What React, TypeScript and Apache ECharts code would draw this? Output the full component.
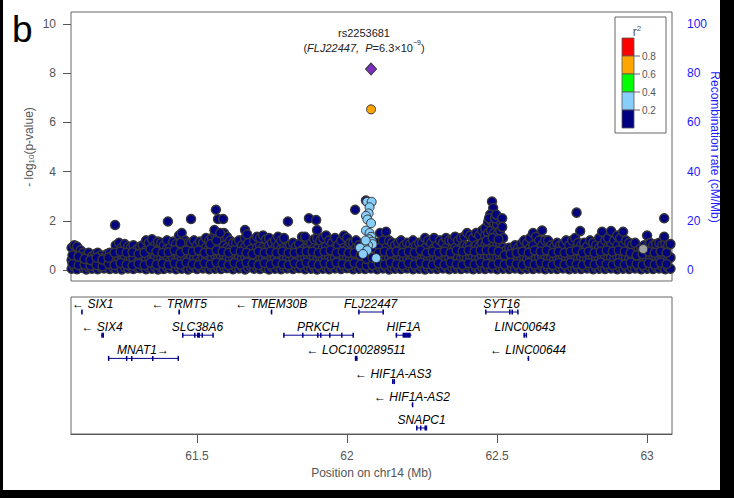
import React, { useEffect, useRef } from 'react';
import * as echarts from 'echarts';

const FONT = '"Liberation Sans", Arial, sans-serif';
const X_MIN = 61.08;
const X_MAX = 63.083;
const xTicks = [61.5, 62, 62.5, 63];
const pTicks = [0, 2, 4, 6, 8, 10];
const recombTicks = [0, 20, 40, 60, 80, 100];

// navy SNPs (r2 < 0.2): each row = [position (Mb), -log10 p values ...]
const navyBins: number[][] = [
  [61.082, .05, .4, .9], [61.091, .12, .55, 1.0], [61.1, .03, .35, .95], [61.112, .15, .5, .8], [61.12, .08, .3, .7],
  [61.131, .02, .3, .6], [61.139, .1, .45, .7], [61.15, .05, .25, .55], [61.161, .12, .4, .65], [61.169, .03, .35, .7],
  [61.18, .1, .3, .6], [61.19, .06, .25, .5], [61.2, .14, .4, .65], [61.209, .04, .35, .7], [61.219, .1, .3, .6],
  [61.229, .05, .45, 1.0], [61.24, .12, .5, 1.1], [61.249, .02, .4, .9], [61.259, .1, .55, 1.05], [61.27, .06, .35, .95],
  [61.279, .13, .45, .9], [61.288, .04, .5, 1.0], [61.3, .1, .3, .85], [61.31, .07, .4, .95], [61.319, .15, .5, 1.0],
  [61.33, .03, .45, .8, 1.2], [61.339, .1, .55, 1.1], [61.35, .05, .4, .75, 1.25], [61.36, .12, .5, 1.0], [61.37, .02, .45, .8, 1.15],
  [61.38, .09, .5, 1.1], [61.389, .04, .4, 1.0], [61.4, .11, .55, .85, 1.2], [61.41, .06, .35, .9], [61.42, .13, .5, 1.15],
  [61.43, .03, .4, .75, 1.05], [61.44, .1, .55, .9, 1.4], [61.449, .05, .45, .8, 1.5], [61.46, .12, .5, 1.2], [61.47, .02, .4, 1.1],
  [61.48, .08, .5, 1.1], [61.49, .14, .45, .8, 1.2], [61.5, .04, .55, 1.0], [61.51, .1, .35, .75, 1.15], [61.52, .06, .5, 1.1],
  [61.53, .12, .45, .9, 1.3], [61.54, .03, .55, .85, 1.2], [61.55, .1, .5, .9, 1.3], [61.56, .05, .6, 1.0, 1.45], [61.57, .12, .45, .9, 1.4],
  [61.58, .04, .55, .95, 1.3], [61.59, .1, .6, 1.0, 1.5], [61.6, .07, .5, .9, 1.35], [61.61, .13, .45, .85, 1.2], [61.62, .03, .55, 1.1],
  [61.63, .1, .4, .8, 1.1], [61.64, .06, .5, 1.2], [61.65, .12, .45, 1.0], [61.66, .02, .55, .95, 1.3], [61.67, .09, .5, 1.1],
  [61.68, .14, .4, .85], [61.69, .05, .5, 1.2], [61.7, .1, .45, .9, 1.35], [61.71, .04, .55, 1.0, 1.3], [61.72, .12, .5, .9, 1.4],
  [61.73, .07, .45, .85, 1.25], [61.74, .02, .55, 1.0, 1.3], [61.75, .11, .4, .8, 1.1], [61.76, .05, .5, .9, 1.2], [61.77, .13, .45, 1.0, 1.35],
  [61.78, .03, .55, .85, 1.2], [61.79, .1, .5, .9, 1.3], [61.8, .06, .45, .9], [61.81, .12, .4, 1.0], [61.82, .04, .5, 1.1],
  [61.83, .1, .35, .95], [61.84, .07, .5, 1.05], [61.85, .14, .45, .8, 1.35], [61.86, .03, .5, .9, 1.3], [61.87, .1, .55, .95, 1.2],
  [61.88, .05, .45, 1.1], [61.89, .12, .5, .9, 1.25], [61.9, .02, .4, .85, 1.3], [61.91, .09, .55, 1.2], [61.92, .05, .45, .9, 1.3],
  [61.93, .12, .5, .95, 1.4], [61.94, .03, .55, 1.2], [61.95, .1, .45, 1.1], [61.96, .06, .5, .9, 1.3], [61.97, .13, .4, 1.0],
  [61.98, .04, .5, 1.2], [61.99, .1, .55, .9, 1.4], [62.0, .07, .45, .85, 1.3], [62.01, .12, .5, 1.1], [62.02, .03, .45, 1.1],
  [62.03, .1, .5, .9, 1.2], [62.04, .05, .4, 1.0], [62.05, .12, .35, .9], [62.06, .04, .3, .7], [62.07, .1, .25],
  [62.08, .06, .3], [62.09, .13, .45, .9], [62.1, .03, .5, 1.1], [62.11, .1, .45, .9, 1.5], [62.12, .06, .5, 1.2],
  [62.13, .12, .45, .9, 1.55], [62.14, .02, .5, 1.2], [62.15, .09, .45, 1.1], [62.16, .05, .5, 1.0], [62.17, .12, .4, 1.1],
  [62.18, .04, .5, .85, 1.2], [62.19, .1, .45, 1.0], [62.2, .06, .5, 1.1], [62.21, .13, .4, 1.05], [62.22, .03, .5, .9, 1.2],
  [62.23, .1, .45, 1.0], [62.24, .05, .55, 1.1], [62.25, .12, .45, 1.1], [62.26, .02, .5, .9, 1.3], [62.27, .09, .45, 1.2],
  [62.28, .05, .5, 1.1], [62.29, .12, .4, .9, 1.3], [62.3, .04, .5, 1.0], [62.31, .1, .45, 1.2], [62.32, .06, .55, 1.1],
  [62.33, .13, .45, .9, 1.3], [62.34, .03, .5, 1.2], [62.35, .1, .45, .85, 1.2], [62.36, .05, .55, .9, 1.35], [62.37, .12, .5, 1.2],
  [62.38, .04, .45, .9, 1.3], [62.39, .1, .55, 1.0, 1.35], [62.4, .06, .5, .95, 1.5], [62.41, .13, .45, 1.0, 1.4], [62.42, .03, .55, .9, 1.3],
  [62.43, .1, .5, 1.0, 1.5], [62.44, .05, .45, .95, 1.4], [62.45, .12, .6, 1.1, 1.6], [62.46, .04, .5, 1.0, 1.4, 1.7], [62.47, .1, .55, 1.0, 1.5, 1.95],
  [62.48, .06, .6, 1.1, 1.6, 2.0], [62.49, .13, .55, 1.05, 1.5, 1.9], [62.5, .03, .5, 1.0, 1.45, 1.85], [62.51, .1, .55, 1.1, 1.6, 2.0], [62.52, .05, .5, .9, 1.3],
  [62.53, .12, .45, .8], [62.54, .04, .5, .9], [62.55, .1, .4, .85], [62.56, .06, .5, 1.0], [62.57, .13, .45, .9],
  [62.58, .03, .5, 1.05], [62.59, .1, .55, 1.2], [62.6, .05, .45, 1.1], [62.61, .12, .5, .9, 1.3], [62.62, .04, .55, 1.0, 1.5],
  [62.63, .1, .45, 1.35], [62.64, .06, .5, 1.2], [62.65, .13, .55, 1.0, 1.6], [62.66, .03, .5, 1.2], [62.67, .1, .45, 1.2],
  [62.68, .05, .5, 1.0], [62.69, .12, .4, .95], [62.7, .04, .5, 1.1], [62.71, .1, .45, 1.0], [62.72, .06, .55, 1.05],
  [62.73, .13, .5, 1.2], [62.74, .03, .45, 1.0], [62.75, .1, .5, 1.2], [62.76, .05, .55, 1.3], [62.77, .12, .45, 1.1],
  [62.78, .04, .5, 1.0], [62.79, .1, .45, 1.1], [62.8, .06, .5, .95], [62.81, .13, .45, 1.2], [62.82, .03, .55, 1.1],
  [62.83, .1, .5, 1.0], [62.84, .05, .45, .9, 1.3], [62.85, .12, .5, 1.0, 1.55], [62.86, .04, .55, 1.2], [62.87, .1, .45, .95, 1.3],
  [62.88, .06, .5, 1.0, 1.58], [62.89, .13, .45, 1.2], [62.9, .03, .55, 1.0, 1.4], [62.91, .1, .5, 1.3], [62.92, .05, .45, 1.0, 1.55],
  [62.93, .12, .5, 1.2], [62.94, .04, .45, 1.1], [62.95, .1, .5, 1.0], [62.96, .06, .45, 1.1], [62.97, .13, .4, .8],
  [62.98, .03, .45, .9], [62.99, .1, .5, 1.0], [63.0, .05, .45, .95, 1.4], [63.01, .12, .5, 1.1], [63.02, .04, .45, 1.0],
  [63.03, .1, .55, 1.05], [63.04, .06, .5, 1.1], [63.05, .13, .45, 1.0], [63.06, .03, .5, 1.1], [63.07, .1, .45, 1.0],
  [63.078, .05, .5, 1.05],
];

// further navy SNPs inside the dense band, between the rows above
const navyFill: number[][] = [
  [61.085, .25, .6], [61.105, .2, .55], [61.125, .22, .45], [61.145, .18, .4], [61.165, .2, .5], [61.185, .15, .42],
  [61.205, .25, .5], [61.225, .2, .7], [61.245, .28, .75], [61.265, .22, .7], [61.285, .18, .72], [61.305, .25, .65],
  [61.325, .2, .7], [61.345, .3, .85], [61.365, .22, .75], [61.385, .26, .7], [61.405, .2, .72], [61.425, .28, .8],
  [61.445, .22, .7, 1.1], [61.465, .3, .8], [61.485, .24, .75], [61.505, .2, .8], [61.525, .28, .7], [61.545, .22, .75, 1.05],
  [61.565, .3, .8, 1.2], [61.585, .25, .75], [61.605, .2, .7], [61.625, .28, .8], [61.645, .22, .75], [61.665, .3, .7],
  [61.685, .25, .65], [61.705, .2, .75], [61.725, .28, .7], [61.745, .22, .75], [61.765, .3, .7], [61.785, .24, .75],
  [61.805, .2, .7], [61.825, .28, .7], [61.845, .22, .75], [61.865, .3, .75], [61.885, .24, .75], [61.905, .2, .7],
  [61.925, .28, .75], [61.945, .22, .8], [61.965, .3, .7], [61.985, .24, .75], [62.005, .2, .7], [62.025, .28, .7],
  [62.045, .22, .6], [62.065, .18, .45], [62.085, .2, .5], [62.105, .26, .7], [62.125, .22, .75], [62.145, .3, .7],
  [62.165, .24, .75], [62.185, .2, .7], [62.205, .28, .75], [62.225, .22, .7], [62.245, .3, .8], [62.265, .24, .7],
  [62.285, .2, .75], [62.305, .28, .7], [62.325, .22, .75], [62.345, .3, .7], [62.365, .24, .8], [62.385, .2, .75],
  [62.405, .28, .8], [62.425, .22, .75], [62.445, .3, .8], [62.465, .24, .8, 1.2], [62.485, .2, .8, 1.3], [62.505, .28, .75, 1.25],
  [62.525, .22, .6], [62.545, .3, .65], [62.565, .24, .7], [62.585, .2, .75], [62.605, .28, .7], [62.625, .22, .8],
  [62.645, .3, .75], [62.665, .24, .8], [62.685, .2, .7], [62.705, .28, .75], [62.725, .22, .7], [62.745, .3, .75],
  [62.765, .24, .8], [62.785, .2, .7], [62.805, .28, .75], [62.825, .22, .7], [62.845, .3, .75], [62.865, .24, .8],
  [62.885, .2, .75], [62.905, .28, .8], [62.925, .22, .75], [62.945, .3, .7], [62.965, .24, .6], [62.985, .2, .65],
  [63.005, .28, .75], [63.025, .22, .7], [63.045, .3, .75], [63.065, .24, .7],
];

// navy SNPs standing above the band
const navyPeaks: number[][] = [
  [61.227, 1.83], [61.403, 1.97], [61.48, 2.07], [61.563, 2.45], [61.57, 2.07], [61.587, 2.07], [61.558, 1.62],
  [61.577, 1.5], [61.66, 1.62], [61.667, 1.45], [61.803, 1.97], [61.86, 1.35], [61.873, 2.1], [61.897, 2.03],
  [61.9, 1.62], [62.027, 2.45], [62.063, 2.82], [62.483, 2.78], [62.487, 2.52], [62.477, 2.25], [62.473, 2.1],
  [62.493, 2.1], [62.497, 2.25], [62.517, 2.1], [62.517, 1.75], [62.765, 2.33], [62.777, 1.58], [63.057, 2.1], [63.057, 1.35],
];

// r2 0.2-0.4
const lightBluePts: number[][] = [
  [62.067, 2.77], [62.082, 2.77], [62.075, 2.55], [62.072, 2.3], [62.063, 2.2], [62.068, 2.05], [62.08, 1.9],
  [62.063, 1.6], [62.075, 1.5], [62.08, 1.35], [62.073, 1.25], [62.083, 1.15], [62.085, 1.05], [62.07, 1.0],
  [62.057, 1.0], [62.062, 1.2], [62.043, 0.9], [62.067, 0.8], [62.053, 0.65], [62.097, 0.48],
];
const grayPts: number[][] = [[62.987, 0.85]];
const orangePts: number[][] = [[62.08, 6.53]];
const leadSnp: number[][] = [[62.08, 8.17]];

// LD legend
const ldColors = ['#FF0000', '#FFA500', '#00FF00', '#87CEFA', '#000080'];
const ldBreaks = ['0.8', '0.6', '0.4', '0.2'];

// genes
const geneLabels = ['← SIX1', '← TRMT5', '← TMEM30B', 'FLJ22447', 'SYT16', '← SIX4', 'SLC38A6', 'PRKCH', 'HIF1A',
  'LINC00643', 'MNAT1→', '← LOC100289511', '← LINC00644', '← HIF1A-AS3', '← HIF1A-AS2', 'SNAPC1'];
const geneStart = [61.113, 61.437, 61.745, 62.037, 62.46, 61.18, 61.45, 61.787, 62.162, 62.588, 61.203, 62.026, 62.601, 62.15, 62.215, 62.23];
const geneEnd = [61.118, 61.444, 61.749, 62.12, 62.57, 61.187, 61.553, 62.02, 62.215, 62.597, 61.437, 62.035, 62.605, 62.157, 62.218, 62.267];
const geneRow = [1, 1, 1, 1, 1, 2, 2, 2, 2, 2, 3, 3, 3, 4, 5, 6];
const geneExons: number[][][] = [
  [[61.114, 61.117]],
  [[61.438, 61.443]],
  [[61.746, 61.748]],
  [[62.037, 62.039], [62.118, 62.12]],
  [[62.46, 62.462], [62.54, 62.543], [62.548, 62.55], [62.567, 62.57]],
  [[61.181, 61.183], [61.185, 61.187]],
  [[61.45, 61.452], [61.49, 61.492], [61.5, 61.51], [61.515, 61.52], [61.551, 61.553]],
  [[61.787, 61.789], [61.85, 61.852], [61.9, 61.903], [61.91, 61.912], [61.94, 61.942], [61.98, 61.982], [62.018, 62.02]],
  [[62.162, 62.164], [62.185, 62.2], [62.2, 62.212]],
  [[62.588, 62.59], [62.595, 62.597]],
  [[61.203, 61.205], [61.263, 61.265], [61.28, 61.285], [61.35, 61.352], [61.435, 61.437]],
  [[62.026, 62.035]],
  [[62.602, 62.604]],
  [[62.15, 62.152], [62.155, 62.157]],
  [[62.216, 62.217]],
  [[62.23, 62.233], [62.243, 62.246], [62.258, 62.267]],
];

const GENE_COLOR = '#00008B';
const AXIS_GRAY = '#555';

export default function App() {
  const ref = useRef<HTMLDivElement>(null);
  useEffect(() => {
    if (!ref.current) return;
    const chart = echarts.init(ref.current, undefined, { renderer: 'svg' });

    const navyData: number[][] = [];
    [navyBins, navyFill].forEach((rows) => rows.forEach((row) => {
      for (let k = 1; k < row.length; k++) navyData.push([row[0], row[k]]);
    }));
    navyPeaks.forEach((p) => navyData.push(p));

    const geneData = geneStart.map((s, i) => [s, geneEnd[i], geneRow[i], i]);

    const pointStyle = (color: string, bw = 1) => ({ color, borderColor: '#363636', borderWidth: bw, opacity: 1 });

    const legendChildren: any[] = [
      { type: 'rect', shape: { x: 615, y: 17, width: 51, height: 116 }, style: { fill: '#fff', stroke: '#666', lineWidth: 1 } },
      {
        type: 'text', x: 637, y: 31,
        style: {
          text: '{r|r}{s|2}', align: 'center', verticalAlign: 'middle',
          rich: { r: { fontSize: 12, fontFamily: FONT, fill: '#555', verticalAlign: 'bottom', lineHeight: 14 }, s: { fontSize: 8, fontFamily: FONT, fill: '#555', verticalAlign: 'top', lineHeight: 14 } },
        },
      },
    ];
    ldColors.forEach((c, i) => {
      legendChildren.push({ type: 'rect', shape: { x: 622, y: 38 + i * 18, width: 12, height: 18 }, style: { fill: c, stroke: '#555', lineWidth: 0.8 } });
    });
    ldBreaks.forEach((b, i) => {
      const yy = 56 + i * 18;
      legendChildren.push({ type: 'line', shape: { x1: 634, y1: yy, x2: 640, y2: yy }, style: { stroke: '#666', lineWidth: 1 } });
      legendChildren.push({ type: 'text', x: 642, y: yy, style: { text: b, fontSize: 10, fontFamily: FONT, fill: '#555', align: 'left', verticalAlign: 'middle' } });
    });

    const option: any = {
      animation: false,
      backgroundColor: '#fff',
      grid: [
        { left: 71, top: 12, width: 601, height: 269, show: true, borderColor: '#666', borderWidth: 1, backgroundColor: 'transparent' },
        { left: 71, top: 297, width: 601, height: 137, show: true, borderColor: '#666', borderWidth: 1, backgroundColor: 'transparent' },
      ],
      xAxis: [
        { type: 'value', gridIndex: 0, min: X_MIN, max: X_MAX, show: false },
        {
          type: 'value', gridIndex: 1, min: X_MIN, max: X_MAX,
          axisLine: { show: true, lineStyle: { color: '#555' } },
          axisTick: { show: true, length: 9, customValues: xTicks, lineStyle: { color: '#555' } },
          axisLabel: { customValues: xTicks, color: AXIS_GRAY, fontSize: 12, fontFamily: FONT, margin: 16 },
          splitLine: { show: false },
          name: 'Position on chr14 (Mb)', nameLocation: 'middle', nameGap: 33,
          nameTextStyle: { color: AXIS_GRAY, fontSize: 12, fontFamily: FONT },
        },
      ],
      yAxis: [
        {
          type: 'value', gridIndex: 0, min: -0.45, max: 10.49, position: 'left',
          axisLine: { show: false },
          axisTick: { show: true, length: 8, customValues: pTicks, lineStyle: { color: '#555' } },
          axisLabel: { customValues: pTicks, color: AXIS_GRAY, fontSize: 12, fontFamily: FONT, margin: 15 },
          splitLine: { show: false },
        },
        {
          type: 'value', gridIndex: 0, min: -4.5, max: 104.9, position: 'right',
          axisLine: { show: false }, axisTick: { show: false },
          axisLabel: { customValues: recombTicks, color: '#1a1aff', fontSize: 12, fontFamily: FONT, margin: 15 },
          splitLine: { show: false },
        },
        { type: 'value', gridIndex: 1, min: 0.353, max: 6.26, inverse: true, show: false },
      ],
      series: [
        {
          type: 'scatter', xAxisIndex: 0, yAxisIndex: 0, data: navyData, symbol: 'circle', symbolSize: 9,
          itemStyle: pointStyle('#000080', 1.5), silent: true, z: 2,
        },
        {
          type: 'scatter', xAxisIndex: 0, yAxisIndex: 0, data: grayPts, symbol: 'circle', symbolSize: 9,
          itemStyle: pointStyle('#A0A0A0'), silent: true, z: 3,
        },
        {
          type: 'scatter', xAxisIndex: 0, yAxisIndex: 0, data: lightBluePts, symbol: 'circle', symbolSize: 9,
          itemStyle: pointStyle('#87CEFA'), silent: true, z: 4,
        },
        {
          type: 'scatter', xAxisIndex: 0, yAxisIndex: 0, data: orangePts, symbol: 'circle', symbolSize: 9,
          itemStyle: pointStyle('#FFA500'), silent: true, z: 5,
        },
        {
          type: 'scatter', xAxisIndex: 0, yAxisIndex: 0, data: leadSnp, symbol: 'diamond', symbolSize: [11, 12],
          itemStyle: pointStyle('#7B2FBE'), silent: true, z: 6,
        },
        {
          type: 'custom', xAxisIndex: 1, yAxisIndex: 2, data: geneData, silent: true,
          encode: { x: [0, 1], y: 2 },
          renderItem: (params: any, api: any) => {
            const i = api.value(3);
            const row = geneRow[i];
            const p0 = api.coord([geneStart[i], row]);
            const p1 = api.coord([geneEnd[i], row]);
            const y = p0[1];
            const children: any[] = [
              { type: 'line', shape: { x1: p0[0], y1: y, x2: p1[0], y2: y }, style: { stroke: GENE_COLOR, lineWidth: 1 } },
            ];
            geneExons[i].forEach((ex) => {
              const a = api.coord([ex[0], row])[0];
              const b = api.coord([ex[1], row])[0];
              const w = Math.max(b - a, 1.5);
              children.push({ type: 'rect', shape: { x: a, y: y - 2.5, width: w, height: 5 }, style: { fill: GENE_COLOR } });
            });
            const label = geneLabels[i];
            const estW = label.length * 6.6;
            let cx = (p0[0] + p1[0]) / 2;
            const leftLim = params.coordSys.x + 2;
            if (cx - estW / 2 < leftLim) cx = leftLim + estW / 2;
            children.push({
              type: 'text',
              style: { text: label, x: cx, y: y - 8, align: 'center', verticalAlign: 'middle', fontSize: 12, fontStyle: 'italic', fontFamily: FONT, fill: '#000' },
            });
            return { type: 'group', children };
          },
        },
      ],
      graphic: [
        { type: 'rect', shape: { x: 0, y: 0, width: 3, height: 498 }, style: { fill: '#000' } },
        { type: 'rect', shape: { x: 720, y: 0, width: 14, height: 498 }, style: { fill: '#000' } },
        { type: 'rect', shape: { x: 0, y: 490, width: 734, height: 8 }, style: { fill: '#000' } },
        { type: 'text', x: 12, y: 29, style: { text: 'b', fontSize: 37, fontFamily: FONT, fill: '#000', align: 'left', verticalAlign: 'middle' } },
        { type: 'text', x: 364, y: 33, style: { text: 'rs2253681', fontSize: 11, fontFamily: FONT, fill: '#222', align: 'center', verticalAlign: 'middle' } },
        {
          type: 'text', x: 364, y: 46,
          style: {
            text: '{n|(}{i|FLJ22447,}{n|  }{i|P}{n|=6.3×10}{s|−9}{n|)}', align: 'center', verticalAlign: 'middle',
            rich: {
              n: { fontSize: 11, fontFamily: FONT, fill: '#222', lineHeight: 14, verticalAlign: 'bottom' },
              i: { fontSize: 11, fontFamily: FONT, fontStyle: 'italic', fill: '#222', lineHeight: 14, verticalAlign: 'bottom' },
              s: { fontSize: 7, fontFamily: FONT, fill: '#222', lineHeight: 14, verticalAlign: 'top' },
            },
          },
        },
        {
          type: 'text', x: 27, y: 147, rotation: Math.PI / 2,
          style: {
            text: '{a|- log}{b|10}{a|(p-value)}', align: 'center', verticalAlign: 'middle',
            rich: {
              a: { fontSize: 12, fontFamily: FONT, fill: AXIS_GRAY, lineHeight: 16, verticalAlign: 'bottom' },
              b: { fontSize: 8, fontFamily: FONT, fill: AXIS_GRAY, lineHeight: 12, verticalAlign: 'bottom' },
            },
          },
        },
        {
          type: 'text', x: 715, y: 147, rotation: -Math.PI / 2,
          style: { text: 'Recombination rate (cM/Mb)', fontSize: 12, fontFamily: FONT, fill: '#1a1aff', align: 'center', verticalAlign: 'middle' },
        },
        { type: 'group', children: legendChildren },
      ],
    };
    chart.setOption(option);
    return () => chart.dispose();
  }, []);
  return <div ref={ref} style={{ position: 'absolute', left: 0, top: 0, width: 734, height: 498 }} />;
}
